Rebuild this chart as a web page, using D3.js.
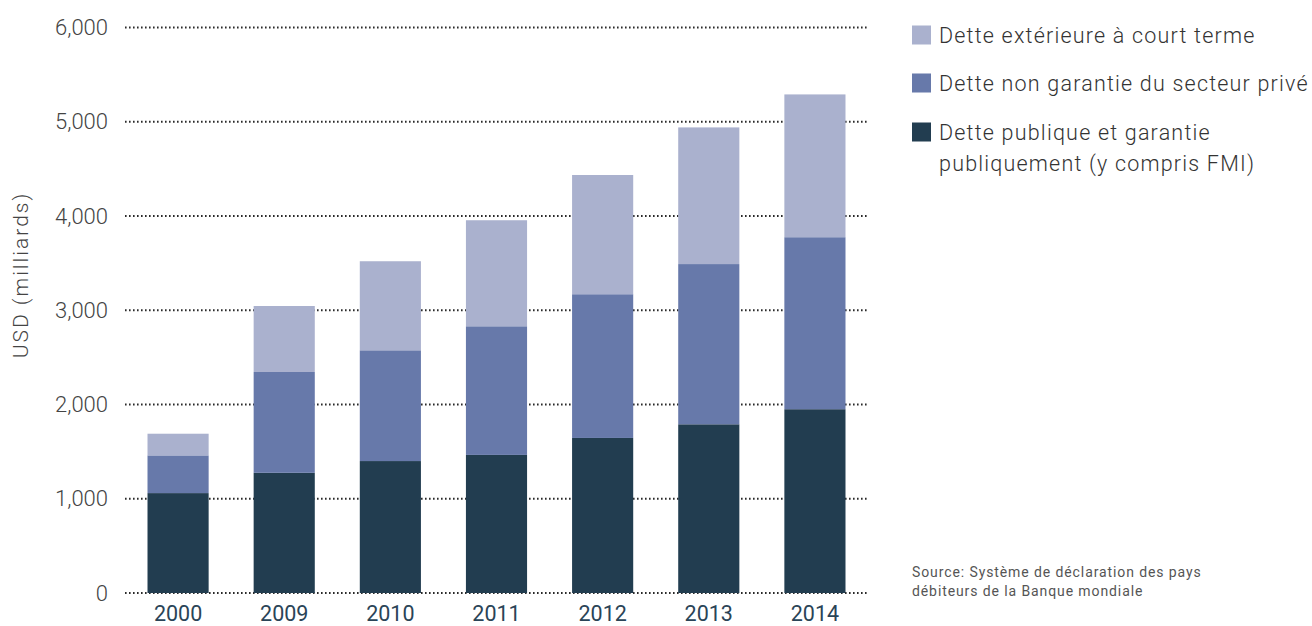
<!DOCTYPE html>
<html>
<head>
<meta charset="utf-8">
<script src="https://cdn.jsdelivr.net/npm/d3@7"></script>
<style>
  body { margin: 0; background: #fff; }
  svg { display: block; font-family: Roboto, "DejaVu Sans", sans-serif; }
</style>
</head>
<body>
<div id="chart"></div>
<script>
/* data (USD, milliards) */
var years = ["2000", "2009", "2010", "2011", "2012", "2013", "2014"];
var publicDebt = [1060, 1275, 1400, 1465, 1645, 1790, 1950];
var privateDebt = [400, 1070, 1175, 1365, 1525, 1700, 1825];
var shortTerm = [230, 700, 945, 1125, 1265, 1450, 1515];
var seriesNames = ["Dette publique et garantie publiquement (y compris FMI)",
  "Dette non garantie du secteur privé",
  "Dette extérieure à court terme"];
var yTicks = [0, 1000, 2000, 3000, 4000, 5000, 6000];
var colors = ["#223d50", "#6779aa", "#aab1ce"];

var width = 1312, height = 626;
var svg = d3.select("#chart").append("svg")
  .attr("width", width)
  .attr("height", height);

var x = d3.scaleBand().domain(years).range([125, 868])
  .paddingInner(0.424).paddingOuter(0.212);
var y = d3.scaleLinear().domain([0, 6000]).range([593, 27.5]);

/* build rows for the stack */
var keys = ["pub", "priv", "short"];
var data = years.map(function(yr, i) {
  return { year: yr, pub: publicDebt[i], priv: privateDebt[i], short: shortTerm[i] };
});
var stacked = d3.stack().keys(keys)(data);

/* dotted gridlines behind the bars */
svg.append("g").selectAll("line")
  .data(yTicks)
  .enter().append("line")
  .attr("x1", 125)
  .attr("x2", 868)
  .attr("y1", function(d) { return y(d); })
  .attr("y2", function(d) { return y(d); })
  .attr("stroke", "#2a2a2a")
  .attr("stroke-width", 2)
  .attr("stroke-dasharray", "1.6,2.4");

/* y axis labels */
var yAxis = svg.append("g")
  .attr("transform", "translate(108,0)")
  .call(d3.axisLeft(y).tickValues(yTicks).tickSize(0).tickPadding(0).tickFormat(d3.format(",")));
yAxis.select(".domain").remove();
yAxis.selectAll("text")
  .attr("fill", "#444")
  .style("font-size", "22px")
  .style("font-family", "Roboto, sans-serif")
  .style("font-weight", 300);

/* bars */
svg.append("g").selectAll("g")
  .data(stacked)
  .enter().append("g")
  .attr("fill", function(d, i) { return colors[i]; })
  .selectAll("rect")
  .data(function(d) { return d; })
  .enter().append("rect")
  .attr("x", function(d) { return x(d.data.year); })
  .attr("width", x.bandwidth())
  .attr("y", function(d) { return y(d[1]); })
  .attr("height", function(d) { return y(d[0]) - y(d[1]); });

/* x axis labels */
var xAxis = svg.append("g")
  .attr("transform", "translate(0,621)")
  .call(d3.axisBottom(x).tickSize(0).tickPadding(0));
xAxis.select(".domain").remove();
xAxis.selectAll("text")
  .attr("fill", "#2a4457")
  .attr("dy", 0)
  .style("font-size", "21.5px")
  .style("font-family", "Roboto, sans-serif")
  .style("font-weight", 400);

/* y axis title */
svg.append("text")
  .attr("transform", "translate(28,275) rotate(-90)")
  .attr("text-anchor", "middle")
  .attr("fill", "#444")
  .style("font-size", "21px")
  .style("letter-spacing", "2px")
  .style("font-weight", 300)
  .text("USD (milliards)");

/* legend, top entry first */
var legendRows = [
  { name: [seriesNames[2]], color: colors[2], y: 35 },
  { name: [seriesNames[1]], color: colors[1], y: 83 },
  { name: ["Dette publique et garantie", "publiquement (y compris FMI)"], color: colors[0], y: 132 }
];
var legend = svg.append("g").selectAll("g")
  .data(legendRows)
  .enter().append("g")
  .attr("transform", function(d) { return "translate(912," + d.y + ")"; });
legend.append("rect")
  .attr("y", -9.5)
  .attr("width", 19)
  .attr("height", 19)
  .attr("fill", function(d) { return d.color; });
legend.append("text")
  .attr("fill", "#333")
  .style("font-size", "21.5px")
  .style("letter-spacing", "1.2px")
  .style("font-weight", 300)
  .selectAll("tspan")
  .data(function(d) { return d.name; })
  .enter().append("tspan")
  .attr("x", 27)
  .attr("y", function(d, i) { return i * 31; })
  .attr("dy", "0.35em")
  .text(function(d) { return d; });

/* source note */
svg.append("text")
  .attr("fill", "#555")
  .style("font-size", "14px")
  .style("letter-spacing", "0.9px")
  .selectAll("tspan")
  .data(["Source: Système de déclaration des pays", "débiteurs de la Banque mondiale"])
  .enter().append("tspan")
  .attr("x", 912)
  .attr("y", function(d, i) { return 577 + i * 19; })
  .text(function(d) { return d; });
</script>
</body>
</html>
